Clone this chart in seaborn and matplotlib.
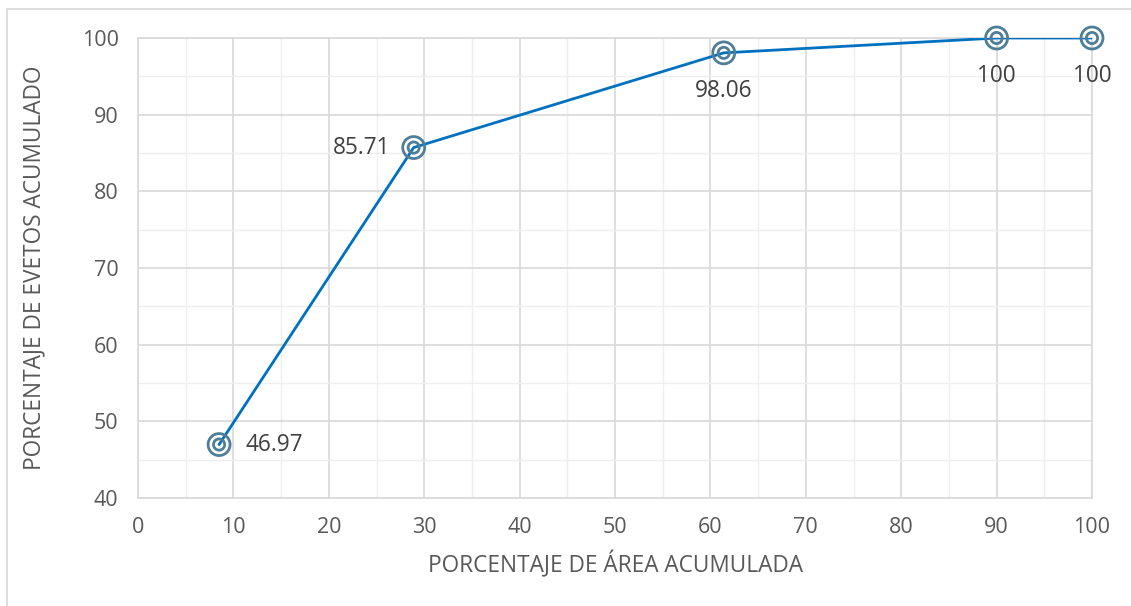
import matplotlib
matplotlib.use("Agg")
import matplotlib.pyplot as plt
from matplotlib.patches import Rectangle
from matplotlib.ticker import MultipleLocator
import seaborn as sns
import pandas as pd

# Cumulative area vs cumulative events
area_pct = [8.5, 28.9, 61.4, 90.0, 100.0]
event_pct = [46.97, 85.71, 98.06, 100.0, 100.0]
point_labels = ["46.97", "85.71", "98.06", "100", "100"]

df = pd.DataFrame({"area": area_pct, "eventos": event_pct})

sns.set_theme(style="white")
plt.rcParams["font.family"] = ["Open Sans", "DejaVu Sans"]

FS_TICK = 15.5
FS_LABEL = 16.3
TXT = "#595959"

fig = plt.figure(figsize=(11.31, 6.06), dpi=100)
ax = fig.add_axes([138 / 1131, 108 / 606, (1092 - 138) / 1131, (498 - 38) / 606])

# outer chart frame
fig.patches.append(Rectangle((7 / 1131, -0.1), 1.2, (606 - 9) / 606 + 0.1,
                             transform=fig.transFigure, fill=False,
                             edgecolor="#d9d9d9", linewidth=1.2))

line_color = "#0070C0"
marker_color = "#4f7e98"

sns.lineplot(data=df, x="area", y="eventos", ax=ax, color=line_color,
             linewidth=2, zorder=3)
# double-ring markers
ax.scatter(df["area"], df["eventos"], s=250, facecolors="none",
           edgecolors=marker_color, linewidths=2.0, zorder=4, clip_on=False)
ax.scatter(df["area"], df["eventos"], s=65, facecolors="none",
           edgecolors=marker_color, linewidths=2.0, zorder=4, clip_on=False)

ax.set_xlim(0, 100)
ax.set_ylim(40, 100)
ax.xaxis.set_major_locator(MultipleLocator(10))
ax.xaxis.set_minor_locator(MultipleLocator(5))
ax.yaxis.set_major_locator(MultipleLocator(10))
ax.yaxis.set_minor_locator(MultipleLocator(5))
ax.grid(which="major", color="#d9d9d9", linewidth=1.2, zorder=0)
ax.grid(which="minor", color="#efefef", linewidth=1.0, zorder=0)
ax.set_axisbelow(True)
for s in ax.spines.values():
    s.set_color("#d9d9d9")
    s.set_linewidth(1.2)

ax.tick_params(axis="both", which="both", length=0, labelsize=FS_TICK,
               labelcolor=TXT)
ax.tick_params(axis="x", pad=14)
ax.tick_params(axis="y", pad=14)

ax.set_xlabel("PORCENTAJE DE ÁREA ACUMULADA", fontsize=FS_LABEL, color=TXT,
              labelpad=9)
ax.set_ylabel("PORCENTAJE DE EVETOS ACUMULADO", fontsize=FS_LABEL, color=TXT,
              labelpad=25)

# value labels
offsets = [(19, 0, "left", "center"),
           (-17, 0, "right", "center"),
           (0, -19, "center", "top"),
           (0, -19, "center", "top"),
           (0, -19, "center", "top")]
for x, y, lab, (dx, dy, ha, va) in zip(area_pct, event_pct, point_labels, offsets):
    ax.annotate(lab, (x, y), xytext=(dx, dy), textcoords="offset points",
                ha=ha, va=va, fontsize=FS_LABEL, color="#404040", zorder=5)

fig.savefig("out.png", dpi=100)
